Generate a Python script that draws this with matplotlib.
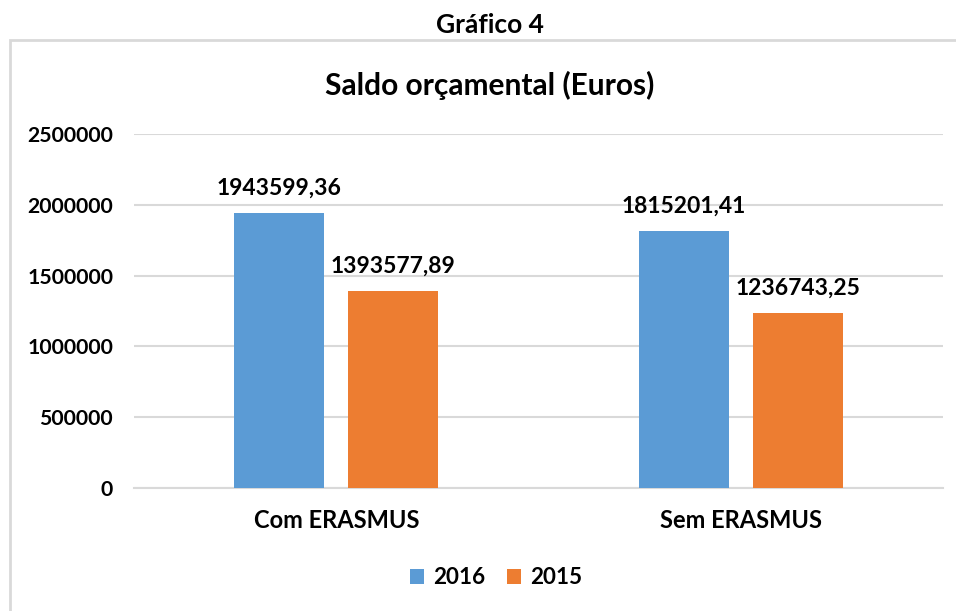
import matplotlib
matplotlib.use("Agg")
import matplotlib.pyplot as plt
from matplotlib.patches import Rectangle
import numpy as np

categories = ["Com ERASMUS", "Sem ERASMUS"]
values_2016 = [1943599.36, 1815201.41]
values_2015 = [1393577.89, 1236743.25]
series_labels = ["2016", "2015"]
yticks = [0, 500000, 1000000, 1500000, 2000000, 2500000]

plt.rcParams["font.family"] = ["Lato", "DejaVu Sans"]
plt.rcParams["font.weight"] = "bold"

blue = "#5B9BD5"
orange = "#ED7D31"
grid_gray = "#D9D9D9"

fig = plt.figure(figsize=(9.56, 6.11), dpi=100)
ax = fig.add_axes([0.1402, 0.2013, 0.8462, 0.5794])

x = np.arange(len(categories))
width = 0.2225
offset = 0.141

bars16 = ax.bar(x - offset, values_2016, width, color=blue, label=series_labels[0], zorder=3)
bars15 = ax.bar(x + offset, values_2015, width, color=orange, label=series_labels[1], zorder=3)

def fmt(v):
    return "{:.2f}".format(v).replace(".", ",")

for bars, vals in ((bars16, values_2016), (bars15, values_2015)):
    for b, v in zip(bars, vals):
        ax.annotate(fmt(v), (b.get_x() + b.get_width() / 2, v),
                    xytext=(0, 10), textcoords="offset points",
                    ha="center", va="bottom", fontsize=16.5, fontweight="bold")

ax.set_xlim(-0.5, 1.5)
ax.set_ylim(0, 2500000)
ax.set_yticks(yticks)
ax.set_yticklabels([str(t) for t in yticks], fontsize=15.3, fontweight="bold")
ax.set_xticks(x)
ax.set_xticklabels(categories, fontsize=17, fontweight="bold")
ax.tick_params(axis="both", length=0)
ax.tick_params(axis="y", pad=15)
ax.tick_params(axis="x", pad=15)

ax.yaxis.grid(True, color=grid_gray, linewidth=1.5, zorder=0)
for side in ("top", "right", "left"):
    ax.spines[side].set_visible(False)
ax.spines["bottom"].set_color(grid_gray)
ax.spines["bottom"].set_linewidth(1.5)

# outer chart border (runs off the right and bottom edges)
fig.patches.append(Rectangle((10 / 956, -0.05), 1.0, 1 - 40 / 611 + 0.05,
                             transform=fig.transFigure, fill=False,
                             edgecolor=grid_gray, linewidth=2))

fig.text(490 / 956, 1 - 25 / 611, "Gráfico 4", ha="center", va="center",
         fontsize=19, fontweight="bold")
fig.text(490 / 956, 1 - 85 / 611, "Saldo orçamental (Euros)", ha="center", va="center",
         fontsize=21.5, fontweight="bold")

fig.legend(loc="center", bbox_to_anchor=(496 / 956, 1 - 578 / 611), ncol=2,
           frameon=False, fontsize=16.2, handlelength=0.6, handleheight=0.6,
           handletextpad=0.4, columnspacing=1.0)

fig.savefig("out.png", dpi=100)
